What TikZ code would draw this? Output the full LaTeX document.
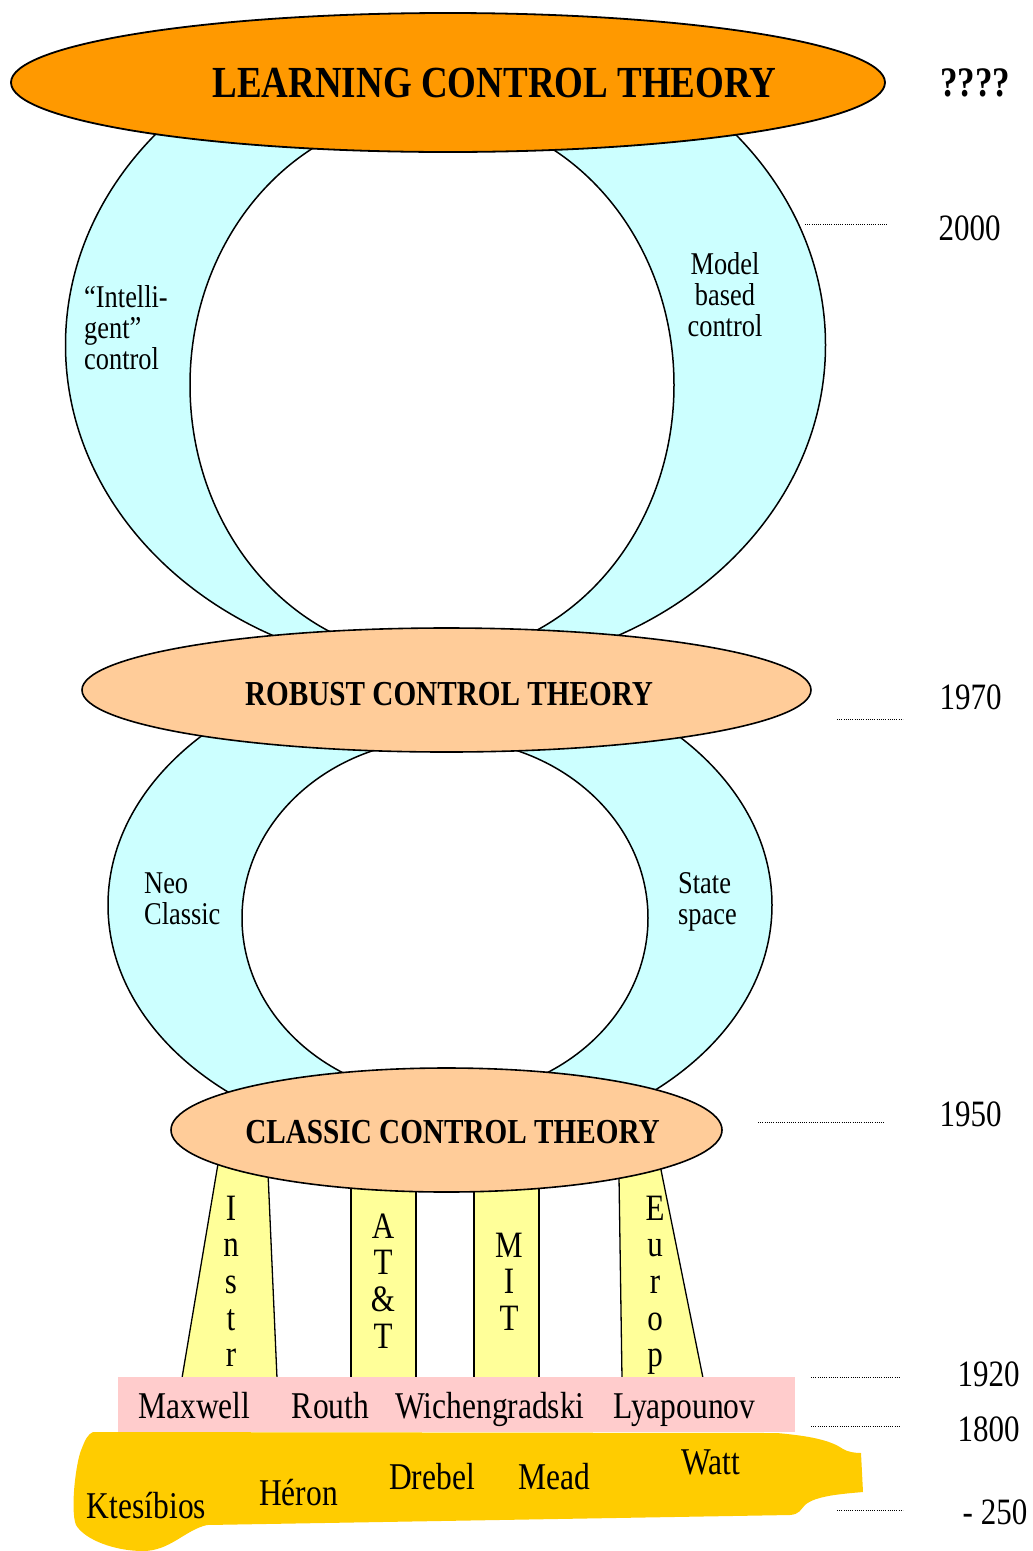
\documentclass[tikz,border=0pt]{standalone}
\usepackage{fontspec}
\setmainfont{Liberation Serif}
\usepackage{graphicx}
\usetikzlibrary{shapes.geometric}

\definecolor{ringcyan}{HTML}{CCFFFF}
\definecolor{learnorange}{HTML}{FF9900}
\definecolor{peach}{HTML}{FFCC99}
\definecolor{pillaryellow}{HTML}{FFFF99}
\definecolor{pinkband}{HTML}{FFCCCC}
\definecolor{goldband}{HTML}{FFCC00}

% text is set slightly taller than wide
\newcommand\tallbox[1]{\scalebox{1}[1.2]{#1}}
\newcommand\stackl[1]{\tallbox{\begin{tabular}[t]{@{}l@{}}#1\end{tabular}}}
\newcommand\stackc[1]{\tallbox{\begin{tabular}[t]{@{}c@{}}#1\end{tabular}}}

\begin{document}
\begin{tikzpicture}[x=1pt,y=-1pt,
  ring/.style={ellipse, draw, line width=1.5pt, inner sep=0pt, fill=ringcyan},
  hole/.style={ellipse, draw, line width=1.5pt, inner sep=0pt, fill=white},
  theory/.style={ellipse, draw, line width=1.6pt, inner sep=0pt},
  pillar/.style={draw, line width=1.3pt, fill=pillaryellow},
  yearline/.style={line width=0.8pt, dash pattern=on 0.8pt off 1.4pt},
  lbl/.style={inner sep=0pt, anchor=base},
  headfont/.style={font=\bfseries\fontsize{29.2}{29}\selectfont},
  ringfont/.style={font=\fontsize{26.4}{26.2}\selectfont},
  namefont/.style={font=\fontsize{31.5}{31}\selectfont},
  yearfont/.style={font=\fontsize{31}{31}\selectfont},
  letterfont/.style={font=\fontsize{31}{30.6}\selectfont}]

\useasboundingbox (0,0) rectangle (1033,1551);
\fill[white] (0,0) rectangle (1033,1551);

% lower ring (classic -> robust)
\node[ring, minimum width=664pt, minimum height=486pt] (lowOuter) at (440,905) {};
\node[hole, minimum width=406pt, minimum height=358pt] (lowInner) at (445,918) {};

% upper ring (robust -> learning)
\node[ring, minimum width=760pt, minimum height=652pt] (upOuter) at (445.5,345) {};
\node[hole, minimum width=484pt, minimum height=544pt] (upInner) at (432,385) {};

% pillars under the classic theory
\draw[pillar] (182,1378) -- (222,1140) -- (267,1150) -- (277,1378) -- cycle;
\draw[pillar] (351,1378) -- (351,1150) -- (416,1150) -- (416,1378) -- cycle;
\draw[pillar] (474,1378) -- (474,1150) -- (539,1150) -- (539,1378) -- cycle;
\draw[pillar] (622,1378) -- (618.6,1150) -- (657,1150) -- (703,1378) -- cycle;

% theory ellipses
\node[theory, fill=peach, minimum width=729pt, minimum height=124pt] (robust) at (446.5,690) {};
\node[theory, fill=peach, minimum width=551pt, minimum height=124pt] (classic) at (446.5,1130) {};
\node[theory, line width=1.8pt, fill=learnorange, minimum width=874pt, minimum height=139pt] (learning) at (448,82.5) {};

% band of the founders
\fill[pinkband] (118,1377) rectangle (795,1432);

% ground of the ancients
\fill[goldband] (93,1432) -- (777,1433)
  .. controls (810,1436) and (830,1440) .. (843,1449)
  .. controls (848,1452) and (855,1453) .. (861,1453)
  -- (863,1492)
  .. controls (840,1494) and (815,1496) .. (805,1505)
  .. controls (800,1510) and (800,1514) .. (790,1515)
  -- (207,1525)
  .. controls (185,1530) and (170,1551) .. (143,1551)
  .. controls (115,1551) and (85,1540) .. (76,1525)
  .. controls (70,1510) and (76,1460) .. (82,1448)
  .. controls (85,1440) and (88,1434) .. (93,1432) -- cycle;

% titles
\node[lbl, font=\bfseries\fontsize{37}{37}\selectfont] (tLearn) at (494.5,97) {\tallbox{LEARNING CONTROL THEORY}};
\node[lbl, headfont] (tRobust) at (449,705) {\tallbox{ROBUST CONTROL THEORY}};
\node[lbl, headfont] (tClassic) at (452.5,1143) {\tallbox{CLASSIC CONTROL THEORY}};

% ring labels
\node[lbl, anchor=base west, ringfont] (tIntel) at (84,307) {\stackl{“Intelli-\\gent”\\control}};
\node[lbl, ringfont] (tModel) at (725,274) {\stackc{Model\\based\\control}};
\node[lbl, anchor=base west, ringfont] (tNeo) at (144,893) {\stackl{Neo\\Classic}};
\node[lbl, anchor=base west, ringfont] (tState) at (678,893) {\stackl{State\\space}};

% pillar letters
\node[lbl, letterfont] (pInstr) at (231,1220) {\stackc{I\\n\\s\\t\\r}};
\node[lbl, letterfont] (pATT) at (383,1238) {\stackc{A\\T\\\&\\T}};
\node[lbl, letterfont] (pMIT) at (509,1257) {\stackc{M\\I\\T}};
\node[lbl, letterfont] (pEurop) at (655,1220) {\stackc{E\\u\\r\\o\\p}};

% founders
\node[lbl, namefont] (nMaxwell) at (194.5,1418) {\tallbox{Maxwell}};
\node[lbl, namefont] (nRouth) at (330.5,1418) {\tallbox{Routh}};
\node[lbl, namefont] (nWich) at (490,1418) {\tallbox{Wichengradski}};
\node[lbl, namefont] (nLyap) at (684.5,1418) {\tallbox{Lyapounov}};

% ancients
\node[lbl, namefont] (nKtes) at (146.5,1518) {\tallbox{Ktesíbios}};
\node[lbl, namefont] (nHeron) at (298.5,1505) {\tallbox{Héron}};
\node[lbl, namefont] (nDrebel) at (432,1489) {\tallbox{Drebel}};
\node[lbl, namefont] (nMead) at (554,1489) {\tallbox{Mead}};
\node[lbl, namefont] (nWatt) at (711,1474) {\tallbox{Watt}};

% time scale
\node[lbl, font=\bfseries\fontsize{35}{35}\selectfont] (yQ) at (975,96) {\tallbox{????}};
\node[lbl, yearfont] (y2000) at (969.5,240) {\tallbox{2000}};
\node[lbl, yearfont] (y1970) at (970.5,709) {\tallbox{1970}};
\node[lbl, yearfont] (y1950) at (970.5,1126) {\tallbox{1950}};
\node[lbl, yearfont] (y1920) at (988.5,1386) {\tallbox{1920}};
\node[lbl, yearfont] (y1800) at (988.5,1441) {\tallbox{1800}};
\node[lbl, yearfont] (y250) at (995,1524) {\tallbox{- 250}};

\coordinate (d2000a) at (805,224);  \coordinate (d2000b) at (887,224);
\coordinate (d1970a) at (837,719);  \coordinate (d1970b) at (903,719);
\coordinate (d1950a) at (758,1122); \coordinate (d1950b) at (884,1122);
\coordinate (d1920a) at (811,1377); \coordinate (d1920b) at (901,1377);
\coordinate (d1800a) at (811,1426); \coordinate (d1800b) at (901,1426);
\coordinate (d250a) at (837,1510);  \coordinate (d250b) at (903,1510);
\draw[yearline] (d2000a) -- (d2000b);
\draw[yearline] (d1970a) -- (d1970b);
\draw[yearline] (d1950a) -- (d1950b);
\draw[yearline] (d1920a) -- (d1920b);
\draw[yearline] (d1800a) -- (d1800b);
\draw[yearline] (d250a) -- (d250b);
\end{tikzpicture}
\end{document}
